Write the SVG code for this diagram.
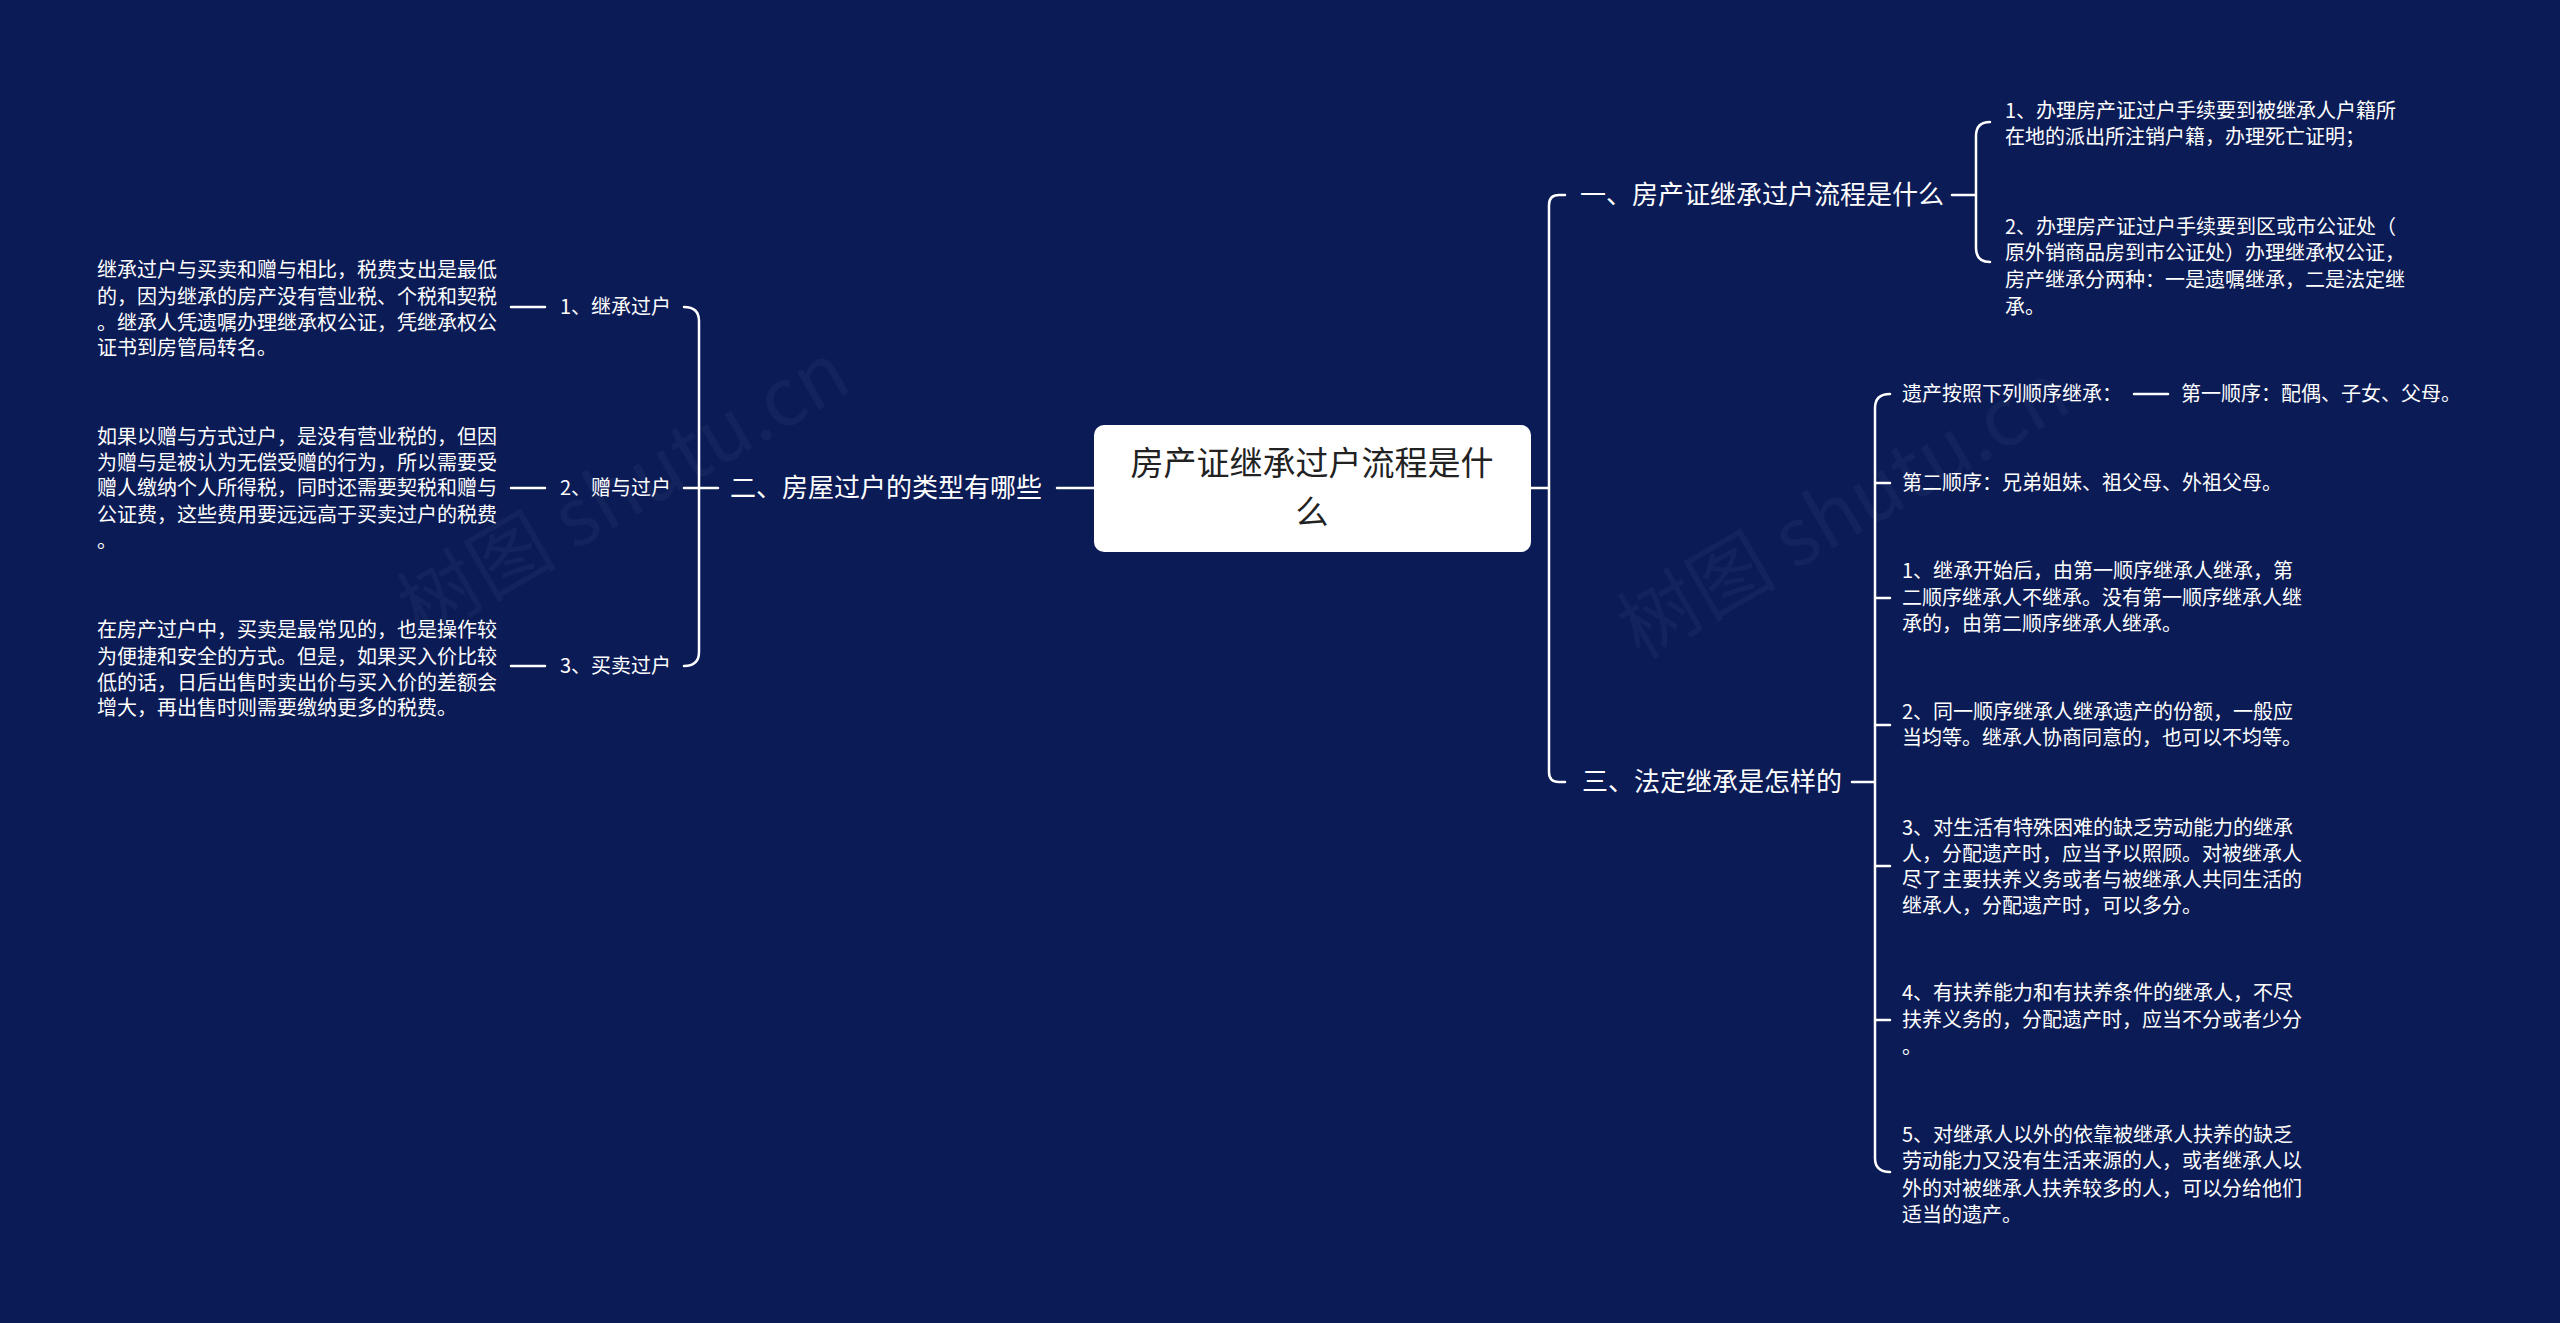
<svg xmlns="http://www.w3.org/2000/svg" width="2560" height="1323" viewBox="0 0 2560 1323">
<style>
text{font-family:"Noto Sans CJK SC","Liberation Sans",sans-serif;fill:#fff}
.c{fill:none;stroke:#fff;stroke-width:2.5;stroke-linecap:round}
.t1{font-size:26px}
.t2{font-size:20px}
.wm{font-size:80px;fill:#fff;fill-opacity:0.035}
</style>
<rect width="2560" height="1323" fill="#0b1b56"/>
<text class="wm" transform="translate(420,640) rotate(-30)">树图 shutu.cn</text>
<text class="wm" transform="translate(1640,660) rotate(-30)">树图 shutu.cn</text>
<g id="connectors">
<path class="c" d="M1531,488 H1549 M1565,195 H1559 Q1549,195 1549,205 V772 Q1549,782 1559,782 H1565"/>
<path class="c" d="M1952,195 H1976 M1990,122 Q1976,122 1976,136 V248 Q1976,262 1990,262"/>
<path class="c" d="M1852,782 H1875 M1890,394 Q1875,394 1875,408 V1158 Q1875,1172 1890,1172 M1875,483 Q1875,483 1890,483 M1875,598 H1890 M1875,725 H1890 M1875,866 H1890 M1875,1020 H1890"/>
<path class="c" d="M2134,394 H2168"/>
<path class="c" d="M1057,488 H1094 M718,488 H684 M684,307 Q699,307 699,321 V652 Q699,666 684,666"/>
<path class="c" d="M511,307 H545 M511,488 H545 M511,666 H545"/>
</g>
<g id="root">
<rect x="1094" y="425" width="437" height="127" rx="10" fill="#fff"/>
<text x="1312" y="475" text-anchor="middle" font-size="33" style="fill:#222">房产证继承过户流程是什</text>
<text x="1312" y="524" text-anchor="middle" font-size="33" style="fill:#222">么</text>
</g>
<g id="b1"><text class="t1" x="1580" y="204">一、房产证继承过户流程是什么</text></g>
<g id="b1c1"><text class="t2"><tspan x="2005" y="118">1、办理房产证过户手续要到被继承人户籍所</tspan><tspan x="2005" y="144">在地的派出所注销户籍，办理死亡证明；</tspan></text></g>
<g id="b1c2"><text class="t2"><tspan x="2005" y="234">2、办理房产证过户手续要到区或市公证处（</tspan><tspan x="2005" y="260">原外销商品房到市公证处）办理继承权公证，</tspan><tspan x="2005" y="287">房产继承分两种：一是遗嘱继承，二是法定继</tspan><tspan x="2005" y="314">承。</tspan></text></g>
<g id="b3"><text class="t1" x="1582" y="791">三、法定继承是怎样的</text></g>
<g id="b3a"><text class="t2" x="1902" y="401">遗产按照下列顺序继承：</text></g>
<g id="b3a1"><text class="t2" x="2181" y="401">第一顺序：配偶、子女、父母。</text></g>
<g id="b3b"><text class="t2" x="1902" y="490">第二顺序：兄弟姐妹、祖父母、外祖父母。</text></g>
<g id="b3c"><text class="t2"><tspan x="1902" y="578">1、继承开始后，由第一顺序继承人继承，第</tspan><tspan x="1902" y="605">二顺序继承人不继承。没有第一顺序继承人继</tspan><tspan x="1902" y="631">承的，由第二顺序继承人继承。</tspan></text></g>
<g id="b3d"><text class="t2"><tspan x="1902" y="719">2、同一顺序继承人继承遗产的份额，一般应</tspan><tspan x="1902" y="745">当均等。继承人协商同意的，也可以不均等。</tspan></text></g>
<g id="b3e"><text class="t2"><tspan x="1902" y="835">3、对生活有特殊困难的缺乏劳动能力的继承</tspan><tspan x="1902" y="861">人，分配遗产时，应当予以照顾。对被继承人</tspan><tspan x="1902" y="887">尽了主要扶养义务或者与被继承人共同生活的</tspan><tspan x="1902" y="913">继承人，分配遗产时，可以多分。</tspan></text></g>
<g id="b3f"><text class="t2"><tspan x="1902" y="1000">4、有扶养能力和有扶养条件的继承人，不尽</tspan><tspan x="1902" y="1027">扶养义务的，分配遗产时，应当不分或者少分</tspan><tspan x="1902" y="1054">。</tspan></text></g>
<g id="b3g"><text class="t2"><tspan x="1902" y="1142">5、对继承人以外的依靠被继承人扶养的缺乏</tspan><tspan x="1902" y="1168">劳动能力又没有生活来源的人，或者继承人以</tspan><tspan x="1902" y="1196">外的对被继承人扶养较多的人，可以分给他们</tspan><tspan x="1902" y="1222">适当的遗产。</tspan></text></g>
<g id="b2"><text class="t1" x="1042" y="497" text-anchor="end">二、房屋过户的类型有哪些</text></g>
<g id="b2a"><text class="t2" x="671" y="314" text-anchor="end">1、继承过户</text></g>
<g id="b2b"><text class="t2" x="671" y="495" text-anchor="end">2、赠与过户</text></g>
<g id="b2c"><text class="t2" x="671" y="673" text-anchor="end">3、买卖过户</text></g>
<g id="b2a1"><text class="t2"><tspan x="97" y="277">继承过户与买卖和赠与相比，税费支出是最低</tspan><tspan x="97" y="304">的，因为继承的房产没有营业税、个税和契税</tspan><tspan x="97" y="330">。继承人凭遗嘱办理继承权公证，凭继承权公</tspan><tspan x="97" y="355">证书到房管局转名。</tspan></text></g>
<g id="b2b1"><text class="t2"><tspan x="97" y="444">如果以赠与方式过户，是没有营业税的，但因</tspan><tspan x="97" y="470">为赠与是被认为无偿受赠的行为，所以需要受</tspan><tspan x="97" y="495">赠人缴纳个人所得税，同时还需要契税和赠与</tspan><tspan x="97" y="522">公证费，这些费用要远远高于买卖过户的税费</tspan><tspan x="97" y="548">。</tspan></text></g>
<g id="b2c1"><text class="t2"><tspan x="97" y="637">在房产过户中，买卖是最常见的，也是操作较</tspan><tspan x="97" y="664">为便捷和安全的方式。但是，如果买入价比较</tspan><tspan x="97" y="690">低的话，日后出售时卖出价与买入价的差额会</tspan><tspan x="97" y="715">增大，再出售时则需要缴纳更多的税费。</tspan></text></g>
</svg>
